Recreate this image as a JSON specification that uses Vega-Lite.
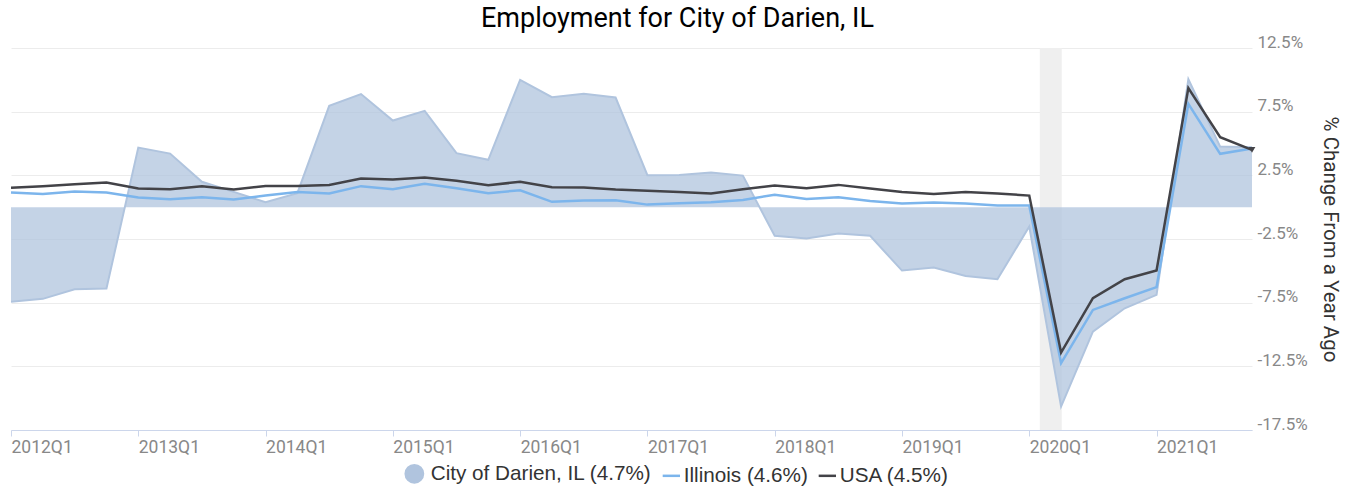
{
  "$schema": "https://vega.github.io/schema/vega-lite/v6.json",
  "width": 1241,
  "height": 382,
  "autosize": {"type": "none"},
  "padding": {"left": 11, "top": 48, "right": 94, "bottom": 59},
  "background": "white",
  "config": {"view": {"stroke": null}, "font": "Roboto"},
  "title": {
    "text": "Employment for City of Darien, IL",
    "fontSize": 27,
    "fontWeight": "normal",
    "color": "#000000",
    "font": "Roboto",
    "anchor": "middle",
    "dx": 46,
    "offset": 0
  },
  "datasets": {
    "employment": [
      {"quarter": "2012Q1", "t": 2012.00, "darien": -7.42, "illinois": 1.15, "usa": 1.52},
      {"quarter": "2012Q2", "t": 2012.25, "darien": -7.2, "illinois": 1.04, "usa": 1.65},
      {"quarter": "2012Q3", "t": 2012.50, "darien": -6.44, "illinois": 1.23, "usa": 1.8},
      {"quarter": "2012Q4", "t": 2012.75, "darien": -6.39, "illinois": 1.15, "usa": 1.93},
      {"quarter": "2013Q1", "t": 2013.00, "darien": 4.68, "illinois": 0.76, "usa": 1.46},
      {"quarter": "2013Q2", "t": 2013.25, "darien": 4.21, "illinois": 0.63, "usa": 1.41},
      {"quarter": "2013Q3", "t": 2013.50, "darien": 1.99, "illinois": 0.78, "usa": 1.65},
      {"quarter": "2013Q4", "t": 2013.75, "darien": 1.2, "illinois": 0.6, "usa": 1.38},
      {"quarter": "2014Q1", "t": 2014.00, "darien": 0.39, "illinois": 0.91, "usa": 1.67},
      {"quarter": "2014Q2", "t": 2014.25, "darien": 1.1, "illinois": 1.2, "usa": 1.67},
      {"quarter": "2014Q3", "t": 2014.50, "darien": 7.96, "illinois": 1.07, "usa": 1.75},
      {"quarter": "2014Q4", "t": 2014.75, "darien": 8.88, "illinois": 1.65, "usa": 2.25},
      {"quarter": "2015Q1", "t": 2015.00, "darien": 6.8, "illinois": 1.41, "usa": 2.17},
      {"quarter": "2015Q2", "t": 2015.25, "darien": 7.56, "illinois": 1.83, "usa": 2.33},
      {"quarter": "2015Q3", "t": 2015.50, "darien": 4.24, "illinois": 1.49, "usa": 2.07},
      {"quarter": "2015Q4", "t": 2015.75, "darien": 3.72, "illinois": 1.1, "usa": 1.73},
      {"quarter": "2016Q1", "t": 2016.00, "darien": 10.0, "illinois": 1.33, "usa": 1.99},
      {"quarter": "2016Q2", "t": 2016.25, "darien": 8.64, "illinois": 0.42, "usa": 1.57},
      {"quarter": "2016Q3", "t": 2016.50, "darien": 8.9, "illinois": 0.52, "usa": 1.54},
      {"quarter": "2016Q4", "t": 2016.75, "darien": 8.61, "illinois": 0.55, "usa": 1.38},
      {"quarter": "2017Q1", "t": 2017.00, "darien": 2.51, "illinois": 0.2, "usa": 1.28},
      {"quarter": "2017Q2", "t": 2017.25, "darien": 2.53, "illinois": 0.31, "usa": 1.2},
      {"quarter": "2017Q3", "t": 2017.50, "darien": 2.72, "illinois": 0.39, "usa": 1.07},
      {"quarter": "2017Q4", "t": 2017.75, "darien": 2.48, "illinois": 0.57, "usa": 1.41},
      {"quarter": "2018Q1", "t": 2018.00, "darien": -2.25, "illinois": 0.97, "usa": 1.7},
      {"quarter": "2018Q2", "t": 2018.25, "darien": -2.46, "illinois": 0.65, "usa": 1.49},
      {"quarter": "2018Q3", "t": 2018.50, "darien": -2.07, "illinois": 0.78, "usa": 1.75},
      {"quarter": "2018Q4", "t": 2018.75, "darien": -2.25, "illinois": 0.49, "usa": 1.46},
      {"quarter": "2019Q1", "t": 2019.00, "darien": -4.98, "illinois": 0.28, "usa": 1.2},
      {"quarter": "2019Q2", "t": 2019.25, "darien": -4.74, "illinois": 0.36, "usa": 1.04},
      {"quarter": "2019Q3", "t": 2019.50, "darien": -5.4, "illinois": 0.28, "usa": 1.2},
      {"quarter": "2019Q4", "t": 2019.75, "darien": -5.66, "illinois": 0.13, "usa": 1.07},
      {"quarter": "2020Q1", "t": 2020.00, "darien": -1.52, "illinois": 0.13, "usa": 0.91},
      {"quarter": "2020Q2", "t": 2020.25, "darien": -15.66, "illinois": -12.25, "usa": -11.42},
      {"quarter": "2020Q3", "t": 2020.50, "darien": -9.77, "illinois": -8.07, "usa": -7.15},
      {"quarter": "2020Q4", "t": 2020.75, "darien": -7.94, "illinois": -7.15, "usa": -5.66},
      {"quarter": "2021Q1", "t": 2021.00, "darien": -6.89, "illinois": -6.28, "usa": -4.98},
      {"quarter": "2021Q2", "t": 2021.25, "darien": 10.05, "illinois": 8.11, "usa": 9.35},
      {"quarter": "2021Q3", "t": 2021.50, "darien": 4.76, "illinois": 4.19, "usa": 5.5},
      {"quarter": "2021Q4", "t": 2021.75, "darien": 4.7, "illinois": 4.6, "usa": 4.5}
    ],
    "recession": [
      {"start": 2020.083, "end": 2020.255}
    ]
  },
  "layer": [
    {
      "data": {"name": "recession"},
      "mark": {"type": "rect", "color": "#efefef"},
      "encoding": {
        "x": {"field": "start", "type": "quantitative", "scale": {"domain": [2012, 2021.75], "nice": false, "zero": false}},
        "x2": {"field": "end"}
      }
    },
    {
      "data": {"name": "employment"},
      "mark": {"type": "area", "opacity": 0.75, "line": {"color": "#b0c4de", "strokeWidth": 2}},
      "encoding": {
        "x": {
          "field": "t", "type": "quantitative",
          "scale": {"domain": [2012, 2021.75], "nice": false, "zero": false},
          "axis": {
            "title": null,
            "values": [2012, 2013, 2014, 2015, 2016, 2017, 2018, 2019, 2020, 2021],
            "labelExpr": "datum.value + 'Q1'",
            "labelAlign": "left",
            "labelFontSize": 17.5,
            "labelColor": "#888888",
            "labelFont": "Roboto",
            "labelPadding": 2,
            "domainColor": "#ccd6eb",
            "tickColor": "#ccd6eb",
            "tickSize": 6,
            "grid": false
          }
        },
        "y": {
          "field": "darien", "type": "quantitative",
          "scale": {"domain": [-17.5, 12.5], "nice": false, "zero": false},
          "axis": {
            "orient": "right",
            "title": "% Change From a Year Ago",
            "titleFontSize": 20.5,
            "titleFontWeight": "normal",
            "titleColor": "#333333",
            "titleFont": "Roboto",
            "titlePadding": 12,
            "values": [-17.5, -15, -12.5, -10, -7.5, -5, -2.5, 0, 2.5, 5, 7.5, 10, 12.5],
            "labelExpr": "abs(datum.value % 5) == 2.5 ? datum.value + '%' : ''",
            "labelFontSize": 17,
            "labelColor": "#888888",
            "labelFont": "Roboto",
            "labelBaseline": "alphabetic",
            "labelOffset": -1,
            "labelPadding": 5,
            "ticks": false,
            "domain": false,
            "grid": true,
            "gridColor": "#ececec",
            "gridWidth": 1
          }
        },
        "color": {
          "datum": "City of Darien, IL (4.7%)",
          "type": "nominal",
          "scale": {
            "domain": ["City of Darien, IL (4.7%)", "Illinois (4.6%)", "USA (4.5%)"],
            "range": ["#b0c4de", "#7cb5ec", "#434348"]
          },
          "legend": {
            "title": null,
            "orient": "none",
            "direction": "horizontal",
            "legendX": 393,
            "legendY": 415,
            "labelFontSize": 20.7,
            "labelColor": "#333333",
            "labelFont": "Liberation Sans",
            "labelLimit": 400,
            "labelOffset": 6,
            "columnPadding": 5,
            "symbolSize": 300,
            "encode": {
              "symbols": {
                "update": {
                  "shape": {"signal": "datum.value == 'City of Darien, IL (4.7%)' ? 'circle' : 'stroke'"},
                  "fill": {"signal": "datum.value == 'City of Darien, IL (4.7%)' ? '#b0c4de' : 'transparent'"},
                  "stroke": {"signal": "datum.value == 'City of Darien, IL (4.7%)' ? 'transparent' : (datum.value == 'Illinois (4.6%)' ? '#7cb5ec' : '#434348')"},
                  "strokeWidth": {"value": 2.5},
                  "opacity": {"value": 1}
                }
              },
              "labels": {
                "update": {
                  "dx": {"signal": "datum.value == 'City of Darien, IL (4.7%)' ? 0 : -4"}
                }
              }
            }
          }
        }
      }
    },
    {
      "data": {"name": "employment"},
      "mark": {"type": "line", "strokeWidth": 2.5},
      "encoding": {
        "x": {"field": "t", "type": "quantitative"},
        "y": {"field": "illinois", "type": "quantitative"},
        "color": {"datum": "Illinois (4.6%)", "type": "nominal"}
      }
    },
    {
      "data": {"name": "employment"},
      "mark": {"type": "line", "strokeWidth": 2.5},
      "encoding": {
        "x": {"field": "t", "type": "quantitative"},
        "y": {"field": "usa", "type": "quantitative"},
        "color": {"datum": "USA (4.5%)", "type": "nominal"}
      }
    },
    {
      "data": {"name": "employment"},
      "transform": [{"filter": "datum.t == 2021.75"}],
      "mark": {"type": "point", "shape": "triangle-down", "filled": true, "size": 45, "color": "#434348", "opacity": 1},
      "encoding": {
        "x": {"field": "t", "type": "quantitative"},
        "y": {"field": "usa", "type": "quantitative"}
      }
    }
  ]
}
